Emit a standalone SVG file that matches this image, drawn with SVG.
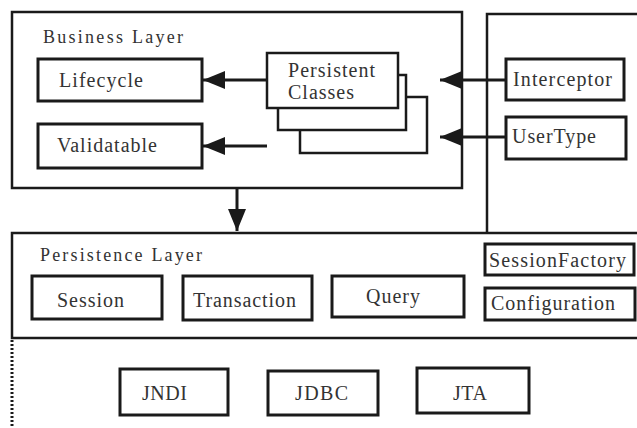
<svg xmlns="http://www.w3.org/2000/svg" width="637" height="428" viewBox="0 0 637 428">
<style>
.layer{fill:none;stroke:#1a1a1a;stroke-width:2.5}
.box{fill:#fff;stroke:#1a1a1a;stroke-width:3}
.pc{fill:#fff;stroke:#1a1a1a;stroke-width:2.5}
.t{font-size:20px;fill:#333}
.lt{font-size:18px;fill:#333}
.conn{stroke:#1a1a1a;stroke-width:3;fill:none}
</style>
<defs>
<marker id="ah" viewBox="0 0 22 18" refX="22" refY="9" markerWidth="22" markerHeight="18" markerUnits="userSpaceOnUse" orient="auto">
<path d="M0,0 L22,9 L0,18 z" fill="#1a1a1a"/>
</marker>
</defs>
<rect width="637" height="428" fill="#fff"/>
<g font-family="Liberation Serif, DejaVu Serif, Times New Roman, serif">
<g id="business-layer">
<rect class="layer" x="12" y="12" width="450" height="176"/>
<text class="lt" x="43" y="43" textLength="140" lengthAdjust="spacing">Business Layer</text>
</g>
<g id="extension-container">
<path class="layer" d="M487,233 L487,14 L640,14"/>
</g>
<g id="persistence-layer">
<rect class="layer" x="12" y="233" width="630" height="105"/>
<text class="lt" x="40" y="261" textLength="162" lengthAdjust="spacing">Persistence Layer</text>
</g>
<g id="lifecycle">
<rect class="box" x="38" y="59" width="164" height="42"/>
<text class="t" x="59" y="87" textLength="84" lengthAdjust="spacing">Lifecycle</text>
</g>
<g id="validatable">
<rect class="box" x="38" y="124" width="164" height="44"/>
<text class="t" x="57" y="152" textLength="100" lengthAdjust="spacing">Validatable</text>
</g>
<g id="persistent-classes">
<rect class="pc" x="300" y="97" width="127" height="56"/>
<rect class="pc" x="278" y="75" width="128" height="55"/>
<rect class="pc" x="267" y="53" width="131" height="55"/>
<text class="t" x="288" y="77" textLength="87" lengthAdjust="spacing">Persistent</text>
<text class="t" x="288" y="99" textLength="66" lengthAdjust="spacing">Classes</text>
</g>
<g id="interceptor">
<rect class="box" x="506" y="59" width="118" height="41"/>
<text class="t" x="513" y="86" textLength="99" lengthAdjust="spacing">Interceptor</text>
</g>
<g id="usertype">
<rect class="box" x="506" y="117" width="120" height="42"/>
<text class="t" x="512" y="143" textLength="84" lengthAdjust="spacing">UserType</text>
</g>
<g id="session">
<rect class="box" x="32" y="276" width="130" height="43"/>
<text class="t" x="57" y="307" textLength="67" lengthAdjust="spacing">Session</text>
</g>
<g id="transaction">
<rect class="box" x="183" y="276" width="129" height="44"/>
<text class="t" x="193" y="307" textLength="103" lengthAdjust="spacing">Transaction</text>
</g>
<g id="query">
<rect class="box" x="332" y="276" width="132" height="41"/>
<text class="t" x="366" y="303" textLength="54" lengthAdjust="spacing">Query</text>
</g>
<g id="sessionfactory">
<rect class="box" x="485" y="244" width="149" height="31"/>
<text class="t" x="489" y="267" textLength="137" lengthAdjust="spacing">SessionFactory</text>
</g>
<g id="configuration">
<rect class="box" x="485" y="288" width="150" height="32"/>
<text class="t" x="491" y="310" textLength="124" lengthAdjust="spacing">Configuration</text>
</g>
<g id="jndi">
<rect class="box" x="120" y="369" width="108" height="46"/>
<text class="t" x="142" y="400" textLength="45" lengthAdjust="spacing">JNDI</text>
</g>
<g id="jdbc">
<rect class="box" x="268" y="371" width="110" height="44"/>
<text class="t" x="295" y="400" textLength="53" lengthAdjust="spacing">JDBC</text>
</g>
<g id="jta">
<rect class="box" x="417" y="368" width="112" height="45"/>
<text class="t" x="453" y="400" textLength="34" lengthAdjust="spacing">JTA</text>
</g>
</g>
<g id="connectors">
<line class="conn" x1="267" y1="80" x2="203" y2="80" marker-end="url(#ah)"/>
<line class="conn" x1="267" y1="146" x2="203" y2="146" marker-end="url(#ah)"/>
<line class="conn" x1="506" y1="80" x2="440" y2="80" marker-end="url(#ah)"/>
<line class="conn" x1="506" y1="137" x2="440" y2="137" marker-end="url(#ah)"/>
<line class="conn" x1="237" y1="189" x2="237" y2="231" marker-end="url(#ah)"/>
<line x1="12" y1="340" x2="12" y2="428" stroke="#1a1a1a" stroke-width="3" stroke-dasharray="2 2"/>
</g>
</svg>
